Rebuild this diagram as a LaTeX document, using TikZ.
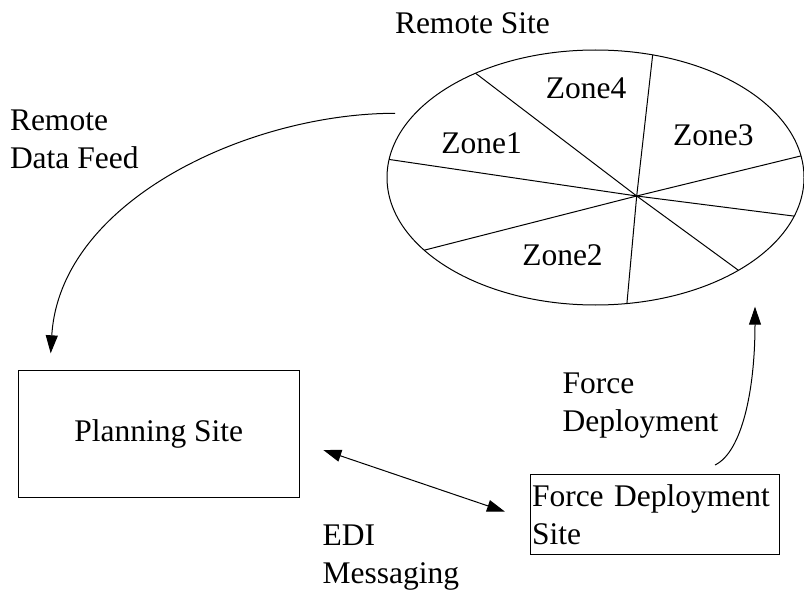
\documentclass[tikz,border=0pt]{standalone}
\usepackage{fontspec}
\setmainfont{Liberation Serif}
\usetikzlibrary{arrows.meta,shapes.geometric}
\begin{document}
\begin{tikzpicture}[x=1pt,y=-1pt,
  every node/.style={font=\fontsize{31.5}{38}\selectfont, inner sep=0pt, outer sep=0pt},
  ln/.style={line width=1pt},
  arr/.style={ln, -{Triangle[length=18pt,width=12pt]}},
  dbl/.style={ln, {Triangle[length=18pt,width=12pt]}-{Triangle[length=18pt,width=12pt]}},
  lbl/.style={anchor=base west, align=left},
  zone/.style={anchor=base},
  box/.style={draw, line width=1pt}]
\useasboundingbox (0,0) rectangle (804,591);

% Remote site ellipse with zones
\node[ellipse, draw, ln, minimum width=417, minimum height=255] (remote) at (595.5,177.5) {};
\coordinate (hub) at (636.7,196);
\foreach \a in {139.4,65.6,6.2,-11.3,-33.9,-76.3,203.2,175.7}
  \draw[ln] (hub) -- (remote.\a);
\node[zone] (z4) at (586,98.3) {Zone4};
\node[zone] (z1) at (481.7,153.3) {Zone1};
\node[zone] (z3) at (713.3,146) {Zone3};
\node[zone] (z2) at (562.5,265.3) {Zone2};
\node[lbl] (rstitle) at (395,33.3) {Remote Site};

% Boxes
\node[box, minimum width=280.7, minimum height=127.3] (plan) at (158.7,433.7) {Planning Site};
\node[box, minimum width=249, minimum height=80, text width=245, align=left, inner xsep=2pt] (fds) at (654.5,514.3) {Force Deployment\\Site};

% Labels (base anchor = baseline of the last line)
\node[lbl] (rdf) at (10,168.3) {Remote\\Data Feed};
\node[lbl] (fdl) at (562.7,431.7) {Force\\Deployment};
\node[lbl] (edi) at (322.7,583) {EDI\\Messaging};

% Connector ends
\coordinate (rdfS) at (395,113.3);
\coordinate (rdfE) at (50.7,353.3);
\coordinate (ediA) at (323.3,450);
\coordinate (ediB) at (505,511.7);
\coordinate (fdS) at (715,465);
\coordinate (fdE) at (755,306.7);

% Connectors
\draw[arr] (rdfS) .. controls (250,113.3) and (60,200) .. (rdfE);
\draw[dbl] (ediA) -- (ediB);
\draw[arr] (fdS) .. controls (742,452) and (755,390) .. (fdE);
\end{tikzpicture}
\end{document}
